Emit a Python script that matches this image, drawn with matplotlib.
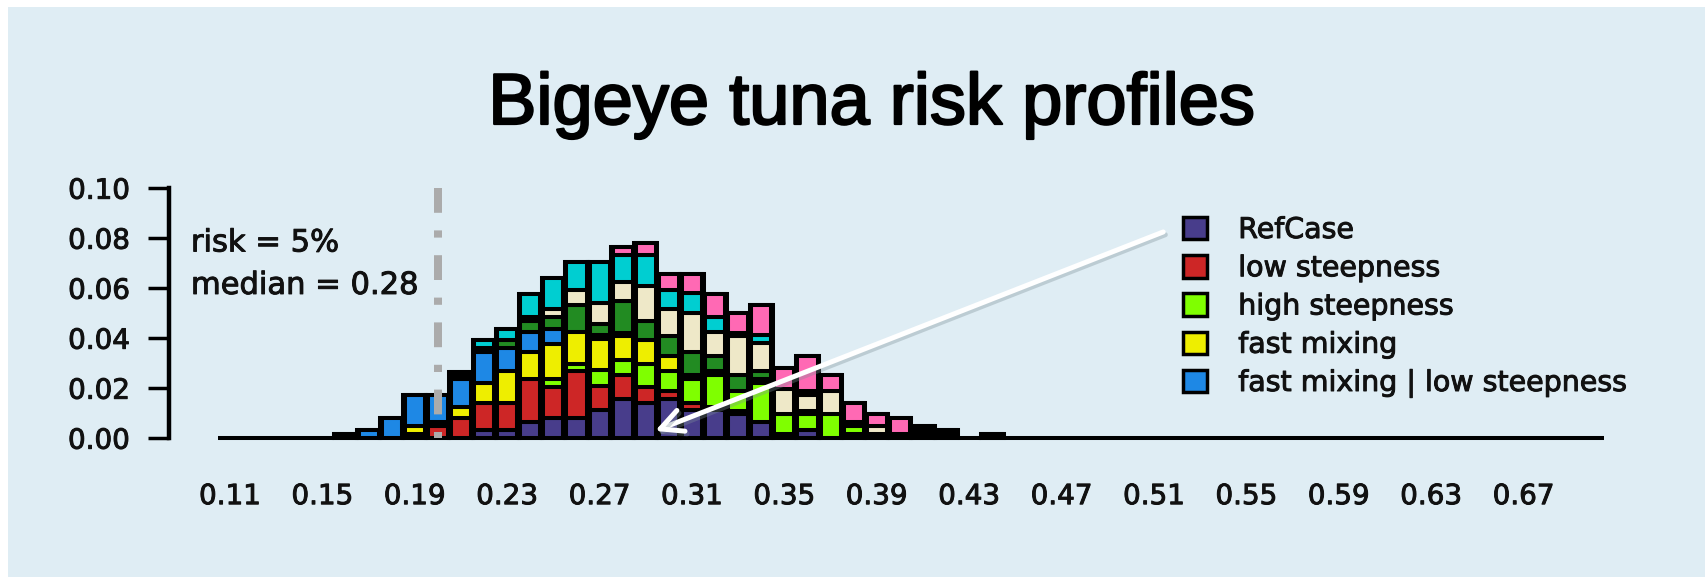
import matplotlib
matplotlib.use('Agg')
import matplotlib.pyplot as plt
import matplotlib.patheffects as pe
from matplotlib.patches import Rectangle, Patch
import numpy as np

plt.rcParams['font.family'] = ['DejaVu Sans']

# histogram bins, 0.11 .. 0.70
bins = np.round(0.11 + 0.01 * np.arange(60), 2)
first = 4  # bin 0.15, start of the lists below (bins 0.15 .. 0.44)

ref_case = [0, 0, 0, 0, 0, 0, 0, 0.0031, 0.0031, 0.0063, 0.0079, 0.0079, 0.0112, 0.0156, 0.0139,
            0.0156, 0.0112, 0.0112, 0.0096, 0.0063, 0.0016, 0.0032, 0, 0.0013, 0, 0, 0, 0, 0, 0]
low_steep = [0, 0, 0, 0, 0.0014, 0.0047, 0.0079, 0.0108, 0.0108, 0.0172, 0.0124, 0.0189, 0.0093, 0.0096, 0.0064,
             0.0032, 0.0027, 0.0011, 0.0011, 0, 0, 0, 0, 0, 0, 0, 0, 0, 0, 0]
high_steep = [0, 0, 0, 0, 0, 0, 0, 0, 0, 0, 0.0032, 0.0028, 0.0064, 0.006, 0.0093,
              0.0079, 0.0096, 0.0129, 0.008, 0.0156, 0.008, 0.0064, 0.0096, 0.0035, 0.0015, 0, 0.0015, 0, 0, 0]
fast_mix = [0, 0, 0, 0, 0.0034, 0.0016, 0.0044, 0.008, 0.0127, 0.0108, 0.014, 0.0127, 0.0125, 0.0096, 0.0096,
            0.0061, 0.0017, 0.0014, 0, 0.0017, 0, 0, 0, 0, 0, 0, 0, 0, 0, 0]
fast_mix_low = [0, 0.0015, 0.0031, 0.0079, 0.0123, 0.0109, 0.0112, 0.0124, 0.0093, 0.008, 0.006, 0, 0.0015, 0.0011, 0,
                0, 0, 0, 0, 0, 0, 0, 0, 0, 0, 0, 0, 0, 0, 0]
scen6 = [0, 0, 0, 0, 0, 0, 0.0014, 0.0016, 0.0033, 0.0045, 0.0048, 0.0109, 0.0045, 0.0129, 0.0076,
         0.008, 0.0091, 0.0062, 0.0065, 0.0032, 0, 0.0011, 0, 0, 0, 0, 0, 0, 0, 0]
scen7 = [0, 0, 0, 0, 0, 0, 0, 0, 0, 0.0015, 0.0033, 0.006, 0.0085, 0.0075, 0.014,
         0.0107, 0.0156, 0.0095, 0.0156, 0.0109, 0.01, 0.0065, 0.0092, 0.0015, 0.0032, 0.0015, 0.0016, 0.0016, 0, 0]
scen8 = [0, 0, 0, 0, 0, 0, 0.0014, 0.0032, 0.0042, 0.0093, 0.0123, 0.0111, 0.0164, 0.0109, 0.0124,
         0.0077, 0.008, 0.006, 0.0011, 0.0033, 0, 0.0015, 0, 0, 0, 0, 0, 0, 0, 0]
scen9 = [0, 0, 0, 0, 0, 0, 0, 0, 0, 0, 0, 0, 0, 0.0031, 0.0047,
         0.0062, 0.0075, 0.0091, 0.008, 0.0122, 0.0083, 0.014, 0.0064, 0.0077, 0.0049, 0.0064, 0.0016, 0.0016, 0, 0.0016]

series = [ref_case, low_steep, high_steep, fast_mix, fast_mix_low, scen6, scen7, scen8, scen9]
colors = ['#483D8B', '#CD2626', '#7FFF00', '#EEEE00', '#1E88E5',
          '#228B22', '#EEE8C8', '#00CED1', '#FF69B4']
labels = ['RefCase', 'low steepness', 'high steepness', 'fast mixing', 'fast mixing | low steepness']

cutoff = 0.20      # 5% risk level
risk_pct = 5
median = 0.28

W, H = 1705, 577
fig = plt.figure(figsize=(W / 100, H / 100), dpi=100)
fig.patch.set_facecolor('white')
fig.patches.append(Rectangle((8 / W, 0), 1, 1 - 7 / H, transform=fig.transFigure,
                             facecolor='#DFEDF4', edgecolor='none', zorder=-10))

# slightly heavier strokes on text
heavy = [pe.withStroke(linewidth=0.7, foreground='#111111')]

ax = fig.add_axes([169 / W, 139.3 / H, 1470.1 / W, 250 / H])
ax.set_facecolor('none')
ax.set_xlim(0.0836, 0.72)
ax.set_ylim(0, 0.1)

full = np.zeros((len(series), len(bins)))
for k, s in enumerate(series):
    full[k, first:first + len(s)] = s
total = full.sum(axis=0)

lw = 2.9
ax.bar(bins, total, width=0.01, color='black', edgecolor='black', linewidth=lw,
       clip_on=False, zorder=2)
bottom = np.zeros(len(bins))
for h, col in zip(full, colors):
    m = h > 0
    ax.bar(bins[m], h[m], width=0.0087, bottom=bottom[m], color=col,
           edgecolor='black', linewidth=lw, clip_on=False, zorder=3)
    bottom += h

# risk cutoff line
ax.plot([cutoff, cutoff], [0.1, 0.0], color='#ABABAB', lw=5.76,
        linestyle=(0, (3.1, 2.2, 0.9, 2.2)), dash_capstyle='butt', zorder=5, clip_on=False)

ax.text(0.0931, 0.0745, f'risk = {risk_pct}%', fontsize=22, color='#111111', path_effects=heavy)
ax.text(0.0931, 0.0575, f'median = {median:.2f}', fontsize=22, color='#111111', path_effects=heavy)

ax.annotate('', xy=(0.294, 0.0027), xytext=(0.514, 0.0823),
            arrowprops=dict(arrowstyle='->,head_length=0.8,head_width=0.4', color='white',
                            lw=3.6, shrinkA=0, shrinkB=0, mutation_scale=20,
                            path_effects=[pe.SimpleLineShadow(offset=(1.5, -2), shadow_color='#7d8f97', alpha=0.35),
                                          pe.Normal()]),
            annotation_clip=False, zorder=6)

for side in ['top', 'right', 'bottom']:
    ax.spines[side].set_visible(False)
ax.spines['left'].set_linewidth(3.2)

ax.set_yticks([0, 0.02, 0.04, 0.06, 0.08, 0.10])
ax.yaxis.set_major_formatter('{x:.2f}')
ax.tick_params(axis='y', length=15, width=2.5, pad=13, labelsize=20, labelcolor='#111111')
ax.set_xticks(bins[::4])
ax.set_xticklabels([f'{v:.2f}' for v in bins[::4]])
ax.tick_params(axis='x', length=0, pad=32, labelsize=20, labelcolor='#111111')
for t in ax.get_xticklabels() + ax.get_yticklabels():
    t.set_path_effects(heavy)

handles = [Patch(facecolor=c, edgecolor='black', linewidth=2.5) for c in colors[:5]]
leg = fig.legend(handles, labels, loc='upper left', bbox_to_anchor=(1183 / W, 1 - 216 / H),
                 frameon=False, fontsize=20.5, handlelength=0.84, handleheight=0.84,
                 handletextpad=1.1, labelspacing=0.36, borderpad=0, borderaxespad=0)
for t in leg.get_texts():
    t.set_color('#111111')
    t.set_path_effects(heavy)

fig.text(872 / W, 1 - 124 / H, 'Bigeye tuna risk profiles', fontsize=52,
         family='Liberation Sans', ha='center', va='baseline',
         path_effects=[pe.withStroke(linewidth=1.6, foreground='black')])

fig.savefig('out.png', dpi=100, facecolor=fig.get_facecolor())
